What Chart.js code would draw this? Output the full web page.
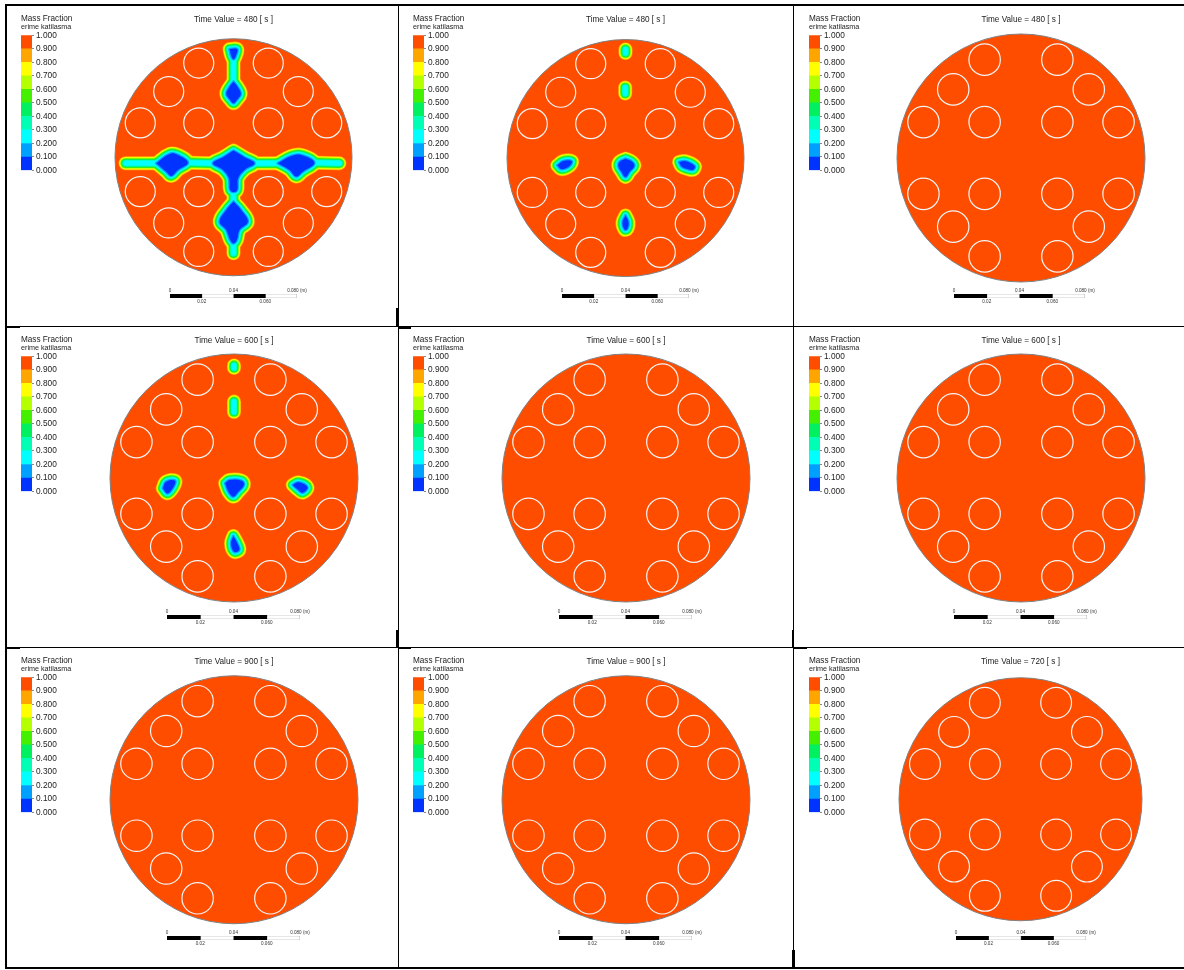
<!DOCTYPE html>
<html><head><meta charset="utf-8">
<script src="https://cdn.jsdelivr.net/npm/chart.js@4"></script>
<style>
html,body{margin:0;padding:0;background:#fff;width:1184px;height:970px;overflow:hidden}
#page{position:absolute;left:0;top:0;width:1184px;height:970px;filter:blur(0.5px)}
canvas{position:absolute;display:block}
.rule{position:absolute;background:#000}
</style></head><body><div id="page"></div>
<script>
// ---------- data (model units: millimetres, disc centre at 0,0) ----------
const timeValues = [480,480,480,600,600,600,900,900,720];
const discRadius = 75;
const tubeRadius = 9.5;
const tubeX = [-22,22,-41,41,-59,-22,22,59,-59,-22,22,59,-41,41,-22,22];
const tubeY = [59.5,59.5,41.5,41.5,21.7,21.7,21.7,21.7,-21.7,-21.7,-21.7,-21.7,-41.5,-41.5,-59.5,-59.5];
const bandLevels = [0,0.1,0.2,0.3,0.4,0.5,0.6,0.7,0.8,0.9,1];
const bandColors = ['#0033ff','#00a0ff','#00ffff','#00ffb4','#00f060','#44f000','#b4ff00','#ffff00','#ffa500','#ff4d00'];
const scaleSegments = [0.02,0.02,0.02,0.02];
const scaleTopTicks = [0,0.04,0.08];
const scaleTopLabels = ['0','0.04','0.080 (m)'];
const scaleBottomTicks = [0.02,0.06];
const scaleBottomLabels = ['0.02','0.060'];

// panel 1 contour cores
const a1TopCap=[[-2.5,68.3],[2.3,68.3],[1.3,63.6],[0,61.9],[-1.3,63.6]];
const a1TopNeck=[[0,61.9],[0,47.8]];
const a1TopDiamond=[[0,47.8],[2.7,44.2],[4.6,40],[2.1,36.2],[0,34.1],[-2.1,36.2],[-4.6,40],[-2.7,44.2]];
const a1LeftTip=[[-68.3,-3.8],[-48.9,-3.8]];
const a1LeftBlob=[[-48.9,-3.8],[-40.5,2.1],[-35.2,1.5],[-28.9,-3.4],[-35.2,-8],[-39.4,-11.8],[-42.6,-9.1]];
const a1LeftLink=[[-28.9,-3.4],[-13.1,-3.8]];
const a1Centre=[[0,4.2],[7,0],[13.3,-3.8],[7,-8],[2.9,-13.3],[2.1,-21.1],[-1.9,-21.1],[-2.9,-13.3],[-6.7,-8],[-13.1,-3.8],[-6.7,0]];
const a1RightLink=[[13.3,-3.8],[28,-3.8]];
const a1RightBlob=[[28,-3.8],[36.5,0.8],[42.8,1.5],[51.2,-3.4],[43.8,-9.1],[39.6,-12.2],[35.4,-8]];
const a1RightTip=[[51.2,-3.4],[67,-3.8]];
const a1LowNeck=[[0,-21.1],[0,-28]];
const a1LowDiamond=[[0,-28],[4.8,-33.3],[9.1,-40.7],[3.8,-45.9],[2.1,-52.3],[0,-54.4],[-2.1,-52.3],[-4.6,-45.9],[-8.8,-40.7],[-4.6,-33.3]];
const a1Tail=[[0,-54.4],[0,-60.7]];
// panel 2 contour cores
const b2Top=[[0,68.5],[0,66.2]];
const b2Second=[[-0.2,44.5],[-0.2,40.7]];
const b2Left=[[-43.2,-4.6],[-39.4,-1.9],[-34.1,-1.9],[-35.2,-4.8],[-40.5,-7]];
const b2Centre=[[0,-0.4],[4,-2.2],[5.6,-5],[2.6,-8.6],[0,-12],[-2.6,-8.6],[-4.6,-5],[-3.6,-2.2]];
const b2Right=[[33.9,-2.5],[37.5,-1.9],[43.8,-5],[42.8,-7.4],[39.6,-7],[35.4,-5.3]];
const b2Lower=[[0,-36.2],[1.9,-40.5],[1.1,-44.7],[-0.6,-45.1],[-1.9,-40.5]];
// panel 4 contour cores
const d4Top=[[0,68.1],[0,66.6]];
const d4Second=[[0,46.2],[0,39.9]];
const d4Left=[[-43.1,-6.2],[-41.1,-2.2],[-35.7,-1.6],[-36.7,-5.6],[-40.3,-9.3]];
const d4Centre=[[-5.4,-3.2],[-2.8,-1.2],[4.6,-1.6],[6,-4.2],[2.6,-8.3],[-0.4,-11.3],[-3.4,-8.3]];
const d4Right=[[35.5,-4.2],[38.9,-2.6],[44.4,-5.6],[41.5,-8.9],[38.9,-7.3]];
const d4Lower=[[-0.4,-35.1],[2,-39.5],[3.2,-43.5],[0,-44.6],[-1.8,-39.5]];

// [outline, firstLevel, isFilledBlue]
const panelBlobs = [
 [[a1TopCap,0,1],[a1TopNeck,1,0],[a1TopDiamond,0,1],[a1LeftTip,1,0],[a1LeftBlob,0,1],[a1LeftLink,1,0],[a1Centre,0,1],[a1RightLink,1,0],[a1RightBlob,0,1],[a1RightTip,1,0],[a1LowNeck,1,0],[a1LowDiamond,0,1],[a1Tail,1,0]],
 [[b2Top,1,0],[b2Second,1,0],[b2Left,0,1],[b2Centre,0,1],[b2Right,0,1],[b2Lower,0,1]],
 [],
 [[d4Top,1,0],[d4Second,1,0],[d4Left,0,1],[d4Centre,0,1],[d4Right,0,1],[d4Lower,0,1]],
 [],[],[],[],[]
];

// ---------- layout (page pixels) ----------
const centreX=[234,625.7,1021,234,626,1021,234,626,1020.5];
const centreY=[157.2,157.8,158,478,478,478,799.5,799.5,799];
const radiusPx=[118.7,118.7,124,124,124,124,124,124,121.5];
const titleY=[14,14,14,335,335,335,656,656,656];
const barX=[21,413,809,21,413,809,21,413,809];
const barTop=[35,35,35,356,356,356,677,677,677];
const barHeight=135;
const scaleX=[170,562,954,167,559,954,167,559,955.5];
const scaleW=[127,127,131,133,133,133,133,133,130];
const scaleY=[294,294,294,615,615,615,936,936,936];
const levelWidths=[2.6,4.8,6.4,8,9.6,11.2,12.6,14];      // stroke widths, inner to outer
const levelColors=bandColors.slice(1,9);
const rules=[[6,4,1178,2],[6,326,1178,1],[6,647,1178,1],[6,967,1178,2],[5,4,2,965],[398,4,1,965],[793,4,1,965],
 [396,308,3,18],[792,630,2,17],[396,630,3,17],[792,950,3,18],[7,326,13,2],[7,647,13,2],[398,327,13,2],[398,647,13,2],[794,647,13,2]];

const page=document.getElementById('page');
rules.forEach(r=>{const d=document.createElement('div');d.className='rule';
 d.style.cssText=`left:${r[0]}px;top:${r[1]}px;width:${r[2]}px;height:${r[3]}px`;document.body.appendChild(d);});
function canvasAt(l,t,w,h){const c=document.createElement('canvas');c.width=Math.round(w);c.height=Math.round(h);
 c.style.left=l+'px';c.style.top=t+'px';c.style.width=Math.round(w)+'px';c.style.height=Math.round(h)+'px';page.appendChild(c);return c;}
const FONT='"Liberation Sans", Arial, sans-serif';
const toXY=a=>a.map(p=>({x:p[0],y:p[1]}));
const pxOf=(ctx,v)=>{const s=ctx.chart.scales.x;return s.getPixelForValue(v)-s.getPixelForValue(0);};

function mainChart(i){
 const S=radiusPx[i]+6, TH=9.84, top=centreY[i]-S, tY=titleY[i]+1, pad=Math.max(0,top-tY-TH);
 const unit=discRadius/radiusPx[i], lim=S*unit;
 const ds=[];
 ds.push({data:toXY(tubeX.map((x,k)=>[x,tubeY[k]])),showLine:false,pointStyle:'circle',
  pointBackgroundColor:'rgba(0,0,0,0)',pointBorderColor:'#f4f4f4',pointBorderWidth:1.2,
  pointRadius:c=>pxOf(c,tubeRadius),pointHoverRadius:c=>pxOf(c,tubeRadius)});
 panelBlobs[i].forEach(b=>{ if(b[2]) ds.push({data:toXY(b[0].concat([b[0][0]])),showLine:true,pointRadius:0,
  borderWidth:0,borderColor:bandColors[0],backgroundColor:bandColors[0],fill:'shape',tension:0.4}); });
 levelWidths.forEach((w,lv)=>{
  panelBlobs[i].forEach(b=>{ if(lv<b[1]) return;
   const pts=b[2]?b[0].concat([b[0][0]]):b[0];
   ds.push({data:toXY(pts),showLine:true,pointRadius:0,borderColor:levelColors[lv],borderWidth:w,
    borderJoinStyle:'round',borderCapStyle:'round',fill:b[2]?'shape':false,backgroundColor:levelColors[lv],tension:0.4});
  });
 });
 ds.push({data:[{x:0,y:0}],showLine:false,pointStyle:'circle',pointBackgroundColor:bandColors[9],
  pointBorderColor:'#808080',pointBorderWidth:1,pointRadius:c=>pxOf(c,discRadius),pointHoverRadius:c=>pxOf(c,discRadius)});
 new Chart(canvasAt(centreX[i]-S,top-pad-TH,2*S,2*S+TH+pad),{type:'scatter',data:{datasets:ds},options:{
  responsive:false,animation:false,events:[],layout:{padding:0},
  scales:{x:{type:'linear',display:false,min:-lim,max:lim},y:{type:'linear',display:false,min:-lim,max:lim}},
  plugins:{legend:{display:false},tooltip:{enabled:false},
   title:{display:true,text:'Time Value = '+timeValues[i]+' [ s ]',color:'#222',align:'center',
    font:{family:FONT,size:8.2,weight:'normal',lineHeight:1.2},padding:{top:0,bottom:pad}}}}});
}
function barChart(i){
 const W=70, above=21, below=7.5;
 const ds=bandColors.map((col,k)=>({data:[+(bandLevels[k+1]-bandLevels[k]).toFixed(1)],backgroundColor:col,borderWidth:0,
  barPercentage:1,categoryPercentage:1,stack:'s'}));
 new Chart(canvasAt(barX[i],barTop[i]-above,W,above+barHeight+8),{type:'bar',data:{labels:[''],datasets:ds},options:{
  responsive:false,animation:false,events:[],layout:{padding:{bottom:below}},
  scales:{x:{display:false,stacked:true},
   y:{stacked:true,position:'right',min:0,max:1,afterFit:s=>{s.width=W-11;},
    afterBuildTicks:s=>{s.ticks=bandLevels.map(v=>({value:v}));},
    border:{display:false},grid:{drawOnChartArea:false,tickLength:2,color:'#555',tickWidth:0.7},
    ticks:{autoSkip:false,padding:2,color:'#222',font:{family:FONT,size:8.3},callback:v=>Number(v).toFixed(3)}}},
  plugins:{legend:{display:false},tooltip:{enabled:false},
   title:{display:true,text:'Mass Fraction',align:'start',color:'#222',font:{family:FONT,size:8.2,weight:'normal',lineHeight:1},padding:{top:1,bottom:0}},
   subtitle:{display:true,text:'erime katilasma',align:'start',color:'#222',font:{family:FONT,size:7.2,lineHeight:1},padding:{top:0,bottom:4.9}}}}});
}
function scaleChart(i){
 const pad=24, axisH=8, barH=4;
 const ds=scaleSegments.map((v,k)=>({data:[v],backgroundColor:k%2?'#ffffff':'#000000',borderColor:k%2?'#9a9a9a':'#000000',borderWidth:k%2?0.7:0,
  barPercentage:1,categoryPercentage:1,xAxisID:'x',stack:'s',borderSkipped:false}));
 const mk=(pos,ticks,labels)=>({type:'linear',position:pos,min:0,max:0.08,stacked:pos==='top',
   afterFit:s=>{s.height=axisH;},afterBuildTicks:s=>{s.ticks=ticks.map(v=>({value:v}));},
   grid:{display:false,drawTicks:false},border:{display:false},
   ticks:{autoSkip:false,maxRotation:0,minRotation:0,padding:1,color:'#333',font:{family:FONT,size:4.6},
    callback:v=>labels[ticks.indexOf(v)]}});
 new Chart(canvasAt(scaleX[i]-pad,scaleY[i]-axisH,scaleW[i]+2*pad,barH+2*axisH),{type:'bar',
  data:{labels:[''],datasets:ds},options:{indexAxis:'y',responsive:false,animation:false,events:[],
  layout:{padding:{left:pad,right:pad}},
  scales:{x:mk('top',scaleTopTicks,scaleTopLabels),x2:mk('bottom',scaleBottomTicks,scaleBottomLabels),y:{display:false,stacked:true}},
  plugins:{legend:{display:false},tooltip:{enabled:false},title:{display:false}}}});
}
timeValues.forEach((t,i)=>{mainChart(i);barChart(i);scaleChart(i);});
</script></body></html>
